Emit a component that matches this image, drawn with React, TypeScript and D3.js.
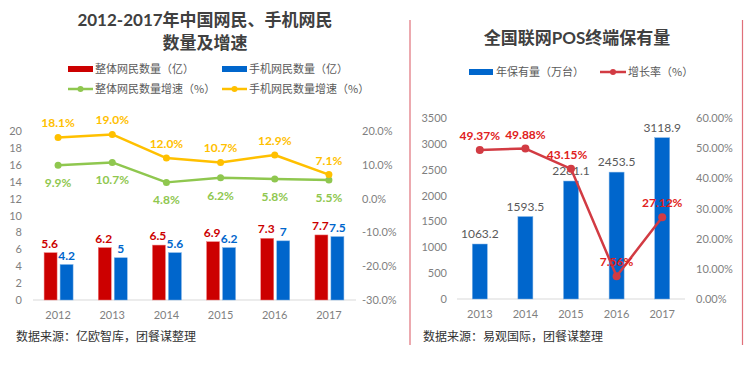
import * as d3 from 'd3';
import React, { useRef, useEffect } from 'react';

// 左图：网民数量及增速
const years1 = ['2012', '2013', '2014', '2015', '2016', '2017'];
const totalUsers = [5.6, 6.2, 6.5, 6.9, 7.3, 7.7];
const mobileUsers = [4.2, 5, 5.6, 6.2, 7, 7.5];
const totalGrowth = [9.9, 10.7, 4.8, 6.2, 5.8, 5.5];
const mobileGrowth = [18.1, 19.0, 12.0, 10.7, 12.9, 7.1];

// 右图：POS终端保有量
const years2 = ['2013', '2014', '2015', '2016', '2017'];
const posCount = [1063.2, 1593.5, 2281.1, 2453.5, 3118.9];
const posGrowth = [49.37, 49.88, 43.15, 7.56, 27.12];

const FONT = "Lato, 'Noto Sans CJK SC', sans-serif";
const CJK = "'Noto Sans CJK SC', sans-serif";
const RED = '#cc0000';
const BLUE = '#0066cc';
const GREEN = '#8fc74f';
const YELLOW = '#ffc000';
const LINE_RED = '#d23b43';
const AXIS_TXT = '#7f7f7f';

function App() {
  const ref = useRef<SVGSVGElement>(null);

  useEffect(() => {
    const svg = d3.select(ref.current);
    svg.selectAll('*').remove();

    // ---------- 左图 ----------
    const g1 = svg.append('g');
    const x1 = d3.scaleBand().domain(years1).range([31, 356]);
    const yL = d3.scaleLinear().domain([0, 20]).range([300, 131]);
    const yR = d3.scaleLinear().domain([-30, 20]).range([300, 131]);

    g1.append('text').attr('x', 205).attr('y', 26).attr('text-anchor', 'middle')
      .style('font', `bold 17px ${FONT}`).attr('fill', '#404040')
      .text('2012-2017年中国网民、手机网民');
    g1.append('text').attr('x', 205).attr('y', 49).attr('text-anchor', 'middle')
      .style('font', `bold 17px ${FONT}`).attr('fill', '#404040')
      .text('数量及增速');

    // legend
    const leg1 = [
      { x: 68, y: 69, type: 'bar', color: RED, label: '整体网民数量（亿）' },
      { x: 222, y: 69, type: 'bar', color: BLUE, label: '手机网民数量（亿）' },
      { x: 68, y: 89, type: 'line', color: GREEN, label: '整体网民数量增速（%）' },
      { x: 222, y: 89, type: 'line', color: YELLOW, label: '手机网民数量增速（%）' },
    ];
    leg1.forEach(l => {
      if (l.type === 'bar') {
        g1.append('rect').attr('x', l.x).attr('y', l.y - 3).attr('width', 25).attr('height', 6).attr('fill', l.color);
      } else {
        g1.append('line').attr('x1', l.x).attr('x2', l.x + 25).attr('y1', l.y).attr('y2', l.y)
          .attr('stroke', l.color).attr('stroke-width', 2.5);
        g1.append('circle').attr('cx', l.x + 12.5).attr('cy', l.y).attr('r', 3).attr('fill', l.color);
      }
      g1.append('text').attr('x', l.x + 27).attr('y', l.y + 4)
        .style('font', `11px ${CJK}`).attr('fill', '#595959').text(l.label);
    });

    // axes
    const axL = g1.append('g').attr('transform', 'translate(24,0)')
      .call(d3.axisLeft(yL).tickValues(d3.range(0, 21, 2)).tickSize(0).tickPadding(2));
    axL.select('.domain').remove();
    axL.selectAll('text').style('font', `11px ${FONT}`).attr('fill', AXIS_TXT);

    const axR = g1.append('g').attr('transform', 'translate(360,0)')
      .call(d3.axisRight(yR).tickValues(d3.range(-30, 21, 10)).tickSize(0).tickPadding(2)
        .tickFormat(d => (+d).toFixed(1) + '%'));
    axR.select('.domain').remove();
    axR.selectAll('text').style('font', `11px ${FONT}`).attr('fill', AXIS_TXT);

    g1.append('line').attr('x1', 33).attr('x2', 356).attr('y1', yL(0)).attr('y2', yL(0))
      .attr('stroke', '#d9d9d9');

    const axB = g1.append('g').attr('transform', `translate(0,${yL(0)})`)
      .call(d3.axisBottom(x1).tickSize(0).tickPadding(11));
    axB.select('.domain').remove();
    axB.selectAll('text').style('font', `11px ${FONT}`).attr('fill', AXIS_TXT);

    const cx1 = (d: string) => (x1(d) as number) + x1.bandwidth() / 2;

    // bars
    g1.selectAll('.rbar').data(totalUsers).enter().append('rect')
      .attr('x', (_, i) => cx1(years1[i]) - 14).attr('width', 13)
      .attr('y', d => yL(d)).attr('height', d => yL(0) - yL(d))
      .attr('fill', RED).attr('stroke', '#f08080').attr('stroke-width', 0.5);
    g1.selectAll('.bbar').data(mobileUsers).enter().append('rect')
      .attr('x', (_, i) => cx1(years1[i]) + 2).attr('width', 13)
      .attr('y', d => yL(d)).attr('height', d => yL(0) - yL(d))
      .attr('fill', BLUE).attr('stroke', '#7fb2e5').attr('stroke-width', 0.5);

    g1.selectAll('.rlab').data(totalUsers).enter().append('text')
      .attr('x', (_, i) => cx1(years1[i]) - 8.5).attr('y', d => yL(d) - 5)
      .attr('text-anchor', 'middle').style('font', `bold 12px ${FONT}`).attr('fill', RED)
      .text(d => String(d));
    g1.selectAll('.blab').data(mobileUsers).enter().append('text')
      .attr('x', (_, i) => cx1(years1[i]) + 8.5).attr('y', d => yL(d) - 5)
      .attr('text-anchor', 'middle').style('font', `bold 12px ${FONT}`).attr('fill', BLUE)
      .text(d => String(d));

    // lines
    const drawLine = (vals: number[], color: string, dy: number) => {
      const line = d3.line<number>().x((_, i) => cx1(years1[i])).y(d => yR(d));
      g1.append('path').datum(vals).attr('d', line).attr('fill', 'none')
        .attr('stroke', color).attr('stroke-width', 2.5).attr('stroke-linejoin', 'round');
      g1.selectAll(null).data(vals).enter().append('circle')
        .attr('cx', (_, i) => cx1(years1[i])).attr('cy', d => yR(d)).attr('r', 3.5).attr('fill', color);
      g1.selectAll(null).data(vals).enter().append('text')
        .attr('x', (_, i) => cx1(years1[i])).attr('y', d => yR(d) + dy)
        .attr('text-anchor', 'middle').style('font', `bold 12px ${FONT}`).attr('fill', color)
        .text(d => d.toFixed(1) + '%');
    };
    drawLine(totalGrowth, GREEN, 22);
    drawLine(mobileGrowth, YELLOW, -10);

    g1.append('text').attr('x', 16).attr('y', 341)
      .style('font', `12px ${CJK}`).attr('fill', '#333').text('数据来源：亿欧智库，团餐谋整理');

    // ---------- 右图 ----------
    const g2 = svg.append('g');
    g2.append('line').attr('x1', 410).attr('x2', 410).attr('y1', 20).attr('y2', 345)
      .attr('stroke', '#e0707a').attr('stroke-width', 1.2);
    g2.append('line').attr('x1', 742.5).attr('x2', 742.5).attr('y1', 20).attr('y2', 345)
      .attr('stroke', '#e0707a').attr('stroke-width', 1.2);

    const x2 = d3.scaleBand().domain(years2).range([457, 685]);
    const y2L = d3.scaleLinear().domain([0, 3500]).range([299, 118]);
    const y2R = d3.scaleLinear().domain([0, 60]).range([299, 118]);
    const cx2 = (d: string) => (x2(d) as number) + x2.bandwidth() / 2;

    g2.append('text').attr('x', 577).attr('y', 44).attr('text-anchor', 'middle')
      .style('font', `bold 17px ${FONT}`).attr('fill', '#404040').text('全国联网POS终端保有量');

    g2.append('rect').attr('x', 469).attr('y', 69).attr('width', 24).attr('height', 6).attr('fill', BLUE);
    g2.append('text').attr('x', 496).attr('y', 76).style('font', `11px ${CJK}`).attr('fill', '#595959')
      .text('年保有量（万台）');
    g2.append('line').attr('x1', 600).attr('x2', 626).attr('y1', 72).attr('y2', 72)
      .attr('stroke', LINE_RED).attr('stroke-width', 2.5);
    g2.append('circle').attr('cx', 613).attr('cy', 72).attr('r', 3).attr('fill', LINE_RED);
    g2.append('text').attr('x', 628).attr('y', 76).style('font', `11px ${CJK}`).attr('fill', '#595959')
      .text('增长率（%）');

    const ax2L = g2.append('g').attr('transform', 'translate(449,0)')
      .call(d3.axisLeft(y2L).tickValues(d3.range(0, 3501, 500)).tickSize(0).tickPadding(2)
        .tickFormat(d3.format('d')));
    ax2L.select('.domain').remove();
    ax2L.selectAll('text').style('font', `11px ${FONT}`).attr('fill', AXIS_TXT);

    const ax2R = g2.append('g').attr('transform', 'translate(694,0)')
      .call(d3.axisRight(y2R).tickValues(d3.range(0, 61, 10)).tickSize(0).tickPadding(2)
        .tickFormat(d => (+d).toFixed(2) + '%'));
    ax2R.select('.domain').remove();
    ax2R.selectAll('text').style('font', `11px ${FONT}`).attr('fill', AXIS_TXT);

    g2.append('line').attr('x1', 457).attr('x2', 685).attr('y1', y2L(0)).attr('y2', y2L(0))
      .attr('stroke', '#d9d9d9');
    const ax2B = g2.append('g').attr('transform', `translate(0,${y2L(0)})`)
      .call(d3.axisBottom(x2).tickSize(0).tickPadding(11));
    ax2B.select('.domain').remove();
    ax2B.selectAll('text').style('font', `11px ${FONT}`).attr('fill', AXIS_TXT);

    g2.selectAll(null).data(posCount).enter().append('rect')
      .attr('x', (_, i) => cx2(years2[i]) - 7.5).attr('width', 15)
      .attr('y', d => y2L(d)).attr('height', d => y2L(0) - y2L(d))
      .attr('fill', BLUE).attr('stroke', '#7fb2e5').attr('stroke-width', 0.5);
    g2.selectAll(null).data(posCount).enter().append('text')
      .attr('x', (_, i) => cx2(years2[i])).attr('y', d => y2L(d) - 6)
      .attr('text-anchor', 'middle').style('font', `12px ${FONT}`).attr('fill', '#595959')
      .text(d => d.toFixed(1));

    const line2 = d3.line<number>().x((_, i) => cx2(years2[i])).y(d => y2R(d));
    g2.append('path').datum(posGrowth).attr('d', line2).attr('fill', 'none')
      .attr('stroke', LINE_RED).attr('stroke-width', 2.5).attr('stroke-linejoin', 'round');
    g2.selectAll(null).data(posGrowth).enter().append('circle')
      .attr('cx', (_, i) => cx2(years2[i])).attr('cy', d => y2R(d)).attr('r', 4).attr('fill', LINE_RED);
    g2.selectAll(null).data(posGrowth).enter().append('text')
      .attr('x', (_, i) => cx2(years2[i]) - (i === 2 ? 4 : 0)).attr('y', d => y2R(d) - 10)
      .attr('text-anchor', 'middle').style('font', `bold 12px ${FONT}`).attr('fill', '#e02020')
      .text(d => d.toFixed(2) + '%');

    g2.append('text').attr('x', 423).attr('y', 341)
      .style('font', `12px ${CJK}`).attr('fill', '#333').text('数据来源：易观国际，团餐谋整理');
  }, []);

  return (
    <svg
      ref={ref}
      width={744}
      height={365}
      style={{ position: 'absolute', left: 0, top: 0, background: '#fff' }}
    />
  );
}

export default App;
